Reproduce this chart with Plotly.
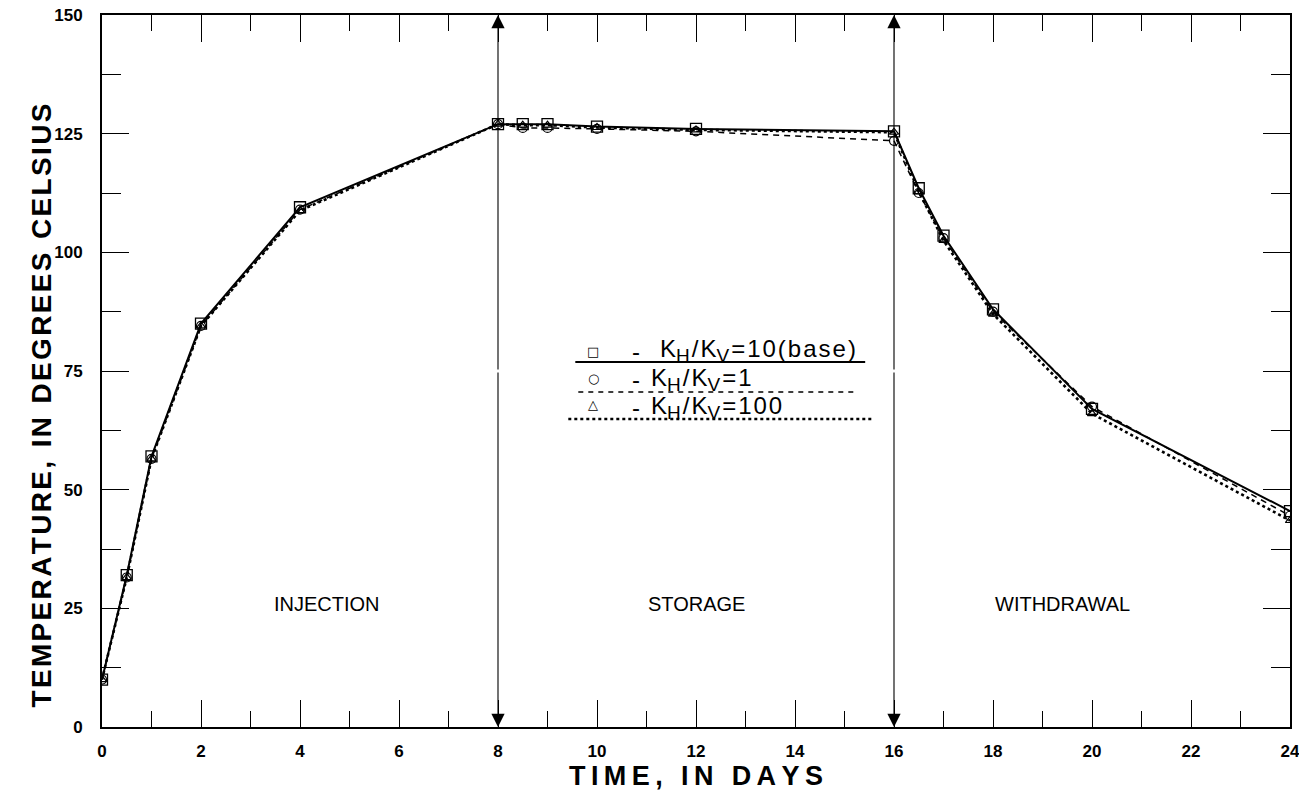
import plotly.graph_objects as go

days = [0, 0.5, 1, 2, 4, 8, 8.5, 9, 10, 12, 16, 16.5, 17, 18, 20, 24]
temp_base = [10, 32, 57, 85, 109.5, 127, 127, 127, 126.5, 126, 125.5, 113.5, 103.5, 88, 67, 45.5]
temp_k1 = [10, 31.5, 56.5, 84.5, 109, 127, 126.2, 126.2, 126, 125.5, 123.5, 112.5, 103, 87.5, 67.5, 44.5]
temp_k100 = [10, 31.5, 56.5, 84.5, 108.8, 127, 126.8, 126.8, 126.3, 125.8, 125.3, 112.8, 102.5, 87, 66, 43.5]
phase_names = ["INJECTION", "STORAGE", "WITHDRAWAL"]
phase_x = [4.55, 12.0, 19.4]
phase_y = 26
boundaries = [8, 16]
legend_ratio = ["10(base)", "1", "100"]

FONT = "Liberation Sans, Arial, sans-serif"
TS = "\u2009"   # thin space for letter tracking
HS = "\u200a"   # hair space

# the page body has an 8px margin: figure pixel = page pixel - 8
OFF = 8
PL, PR, PT, PB = 101.5, 1290, 15, 727  # plot area in page pixels


def tracked(s, sep):
    return sep.join(list(s))


def px2paper_x(p):
    return (p - PL) / (PR - PL)


def px2paper_y(p):
    return (PB - p) / (PB - PT)


fig = go.Figure()
fig.add_trace(go.Scatter(x=days, y=temp_k100, mode="lines+markers",
                         line=dict(color="black", width=2.6, dash="dot"),
                         marker=dict(symbol="triangle-up-open", size=8, color="black", line=dict(width=1.2)),
                         showlegend=False))
fig.add_trace(go.Scatter(x=days, y=temp_k1, mode="lines+markers",
                         line=dict(color="black", width=1.5, dash="6px,5px"),
                         marker=dict(symbol="circle-open", size=9, color="black", line=dict(width=1.2)),
                         showlegend=False))
fig.add_trace(go.Scatter(x=days, y=temp_base, mode="lines+markers",
                         line=dict(color="black", width=2),
                         marker=dict(symbol="square-open", size=11, color="black", line=dict(width=1.3)),
                         showlegend=False))

ann = []
for name, px in zip(phase_names, phase_x):
    ann.append(dict(x=px, y=phase_y, xref="x", yref="y", text=name, showarrow=False,
                    font=dict(family=FONT, size=20, color="black")))
for b in boundaries:
    for end in (150, 0):
        ann.append(dict(x=b, y=end, ax=b, ay=75, xref="x", yref="y", axref="x", ayref="y",
                        text="", showarrow=True, arrowhead=2, arrowsize=2.4, arrowwidth=1.1,
                        arrowcolor="black"))

# y-axis title (placed as annotation to match its offset from the plot centre)
ytitle = (TS + HS + TS).join(tracked(w, HS) for w in "TEMPERATURE, IN DEGREES CELSIUS".split(" "))
ann.append(dict(x=px2paper_x(40), y=px2paper_y(406), xref="paper", yref="paper", text=ytitle,
                xanchor="center", yanchor="middle", textangle=-90, showarrow=False,
                font=dict(family=FONT, size=28, color="black", weight="bold")))

# custom legend drawn in paper coordinates
sym = ["\u25a1", "\u25cb", "\u25b3"]
sym_y = [351, 378, 405]
text_y = [350, 379, 407]
text_x = [656, 647, 647]
line_y = [362, 392, 419]
line_dash = ["solid", "5px,5px", "dot"]
line_w = [2, 1.5, 2.6]
line_x0 = [575, 578, 568]
line_x1 = [865, 857, 873]
shapes = []
sub = "<sub><span style='font-size:19px'>{}</span></sub>"
for i in range(3):
    ann.append(dict(x=px2paper_x(593), y=px2paper_y(sym_y[i]), xref="paper", yref="paper",
                    xanchor="center", yanchor="middle",
                    text=sym[i], showarrow=False, font=dict(family="DejaVu Sans", size=13, color="black")))
    ann.append(dict(x=px2paper_x(636), y=px2paper_y(text_y[i] + 1), xref="paper", yref="paper",
                    xanchor="center", yanchor="middle",
                    text="-", showarrow=False, font=dict(family=FONT, size=24, color="black")))
    label = (HS + "K" + sub.format("H") + HS + "/" + HS + "K" + sub.format("V") + HS + "=" + HS
             + tracked(legend_ratio[i], HS))
    ann.append(dict(x=px2paper_x(text_x[i]), y=px2paper_y(text_y[i]), xref="paper", yref="paper",
                    xanchor="left", yanchor="middle", text=label, showarrow=False,
                    font=dict(family=FONT, size=24, color="black")))
    shapes.append(dict(type="line", xref="paper", yref="paper",
                       x0=px2paper_x(line_x0[i]), x1=px2paper_x(line_x1[i]),
                       y0=px2paper_y(line_y[i]), y1=px2paper_y(line_y[i]),
                       line=dict(color="black", width=line_w[i], dash=line_dash[i])))

fig.update_layout(
    width=1307 - OFF, height=795 - OFF,
    margin=dict(l=PL - OFF, r=1307 - PR, t=PT - OFF, b=795 - PB, autoexpand=False),
    paper_bgcolor="white", plot_bgcolor="white",
    annotations=ann, shapes=shapes,
    xaxis=dict(range=[0, 24], tick0=0, dtick=2, ticks="inside", ticklen=27, tickwidth=1.3,
               tickcolor="black", showline=True, linecolor="black", linewidth=2, mirror="ticks",
               showgrid=False, zeroline=False, automargin=False, ticklabelstandoff=8,
               ticklabeloverflow="allow",
               minor=dict(dtick=1, ticks="inside", ticklen=16, tickwidth=1.3, tickcolor="black", showgrid=False),
               tickfont=dict(family=FONT, size=17, color="black", weight="bold"),
               title=dict(text=tracked("TIME, IN DAYS", TS), standoff=4,
                          font=dict(family=FONT, size=27, color="black", weight="bold"))),
    yaxis=dict(range=[0, 150], tick0=0, dtick=25, ticks="inside", ticklen=27, tickwidth=1.3,
               tickcolor="black", showline=True, linecolor="black", linewidth=2, mirror="ticks",
               showgrid=False, zeroline=False, automargin=False, ticklabelstandoff=14,
               ticklabeloverflow="allow",
               minor=dict(dtick=12.5, ticks="inside", ticklen=19, tickwidth=1.3, tickcolor="black", showgrid=False),
               tickfont=dict(family=FONT, size=17, color="black", weight="bold")),
)

fig.write_html("out.html")
